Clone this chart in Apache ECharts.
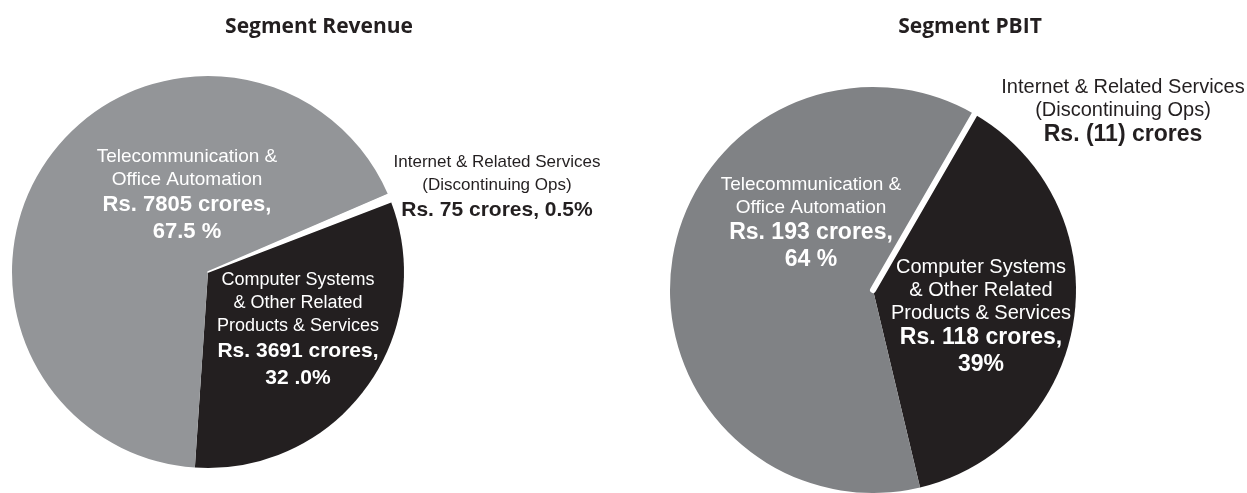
<!DOCTYPE html>
<html>
<head>
<meta charset="utf-8">
<script src="https://cdn.jsdelivr.net/npm/echarts@6/dist/echarts.min.js"></script>
<style>
  html, body { margin: 0; padding: 0; background: #fff; }
  #chart { width: 1247px; height: 493px; }
</style>
</head>
<body>
<div id="chart"></div>
<script>
// segment data, in drawing order (black, gray, white gap)
var segments = [
  "Computer Systems\n& Other Related\nProducts & Services",
  "Telecommunication &\nOffice Automation",
  "Internet & Related Services\n(Discontinuing Ops)"
];
var revenue = [3691, 7805, 75];
var revenueShare = ["32 .0%", "67.5 %", "0.5%"];
var pbit = [118, 193, -11];
var pbitShare = ["39%", "64 %", ""];
var titles = ["Segment Revenue", "Segment PBIT"];

var FONT = "'Liberation Sans', Arial, sans-serif";

// money text: negative shown in brackets
function rs(v) {
  return "Rs. " + (v < 0 ? "(" + Math.abs(v) + ")" : v) + " crores";
}

function buildSeries(values, shares, cfg) {
  var data = values.map(function (v, i) {
    var outside = i === 2; // internet label sits outside, one bold line
    var n = cfg.sizes[i][0], b = cfg.sizes[i][1];
    var color = outside ? "#231f20" : "#ffffff";
    var names = segments[i].split("\n").map(function (s) { return "{n|" + s + "}"; });
    var money;
    if (outside) {
      money = ["{b|" + rs(v) + (shares[i] ? ", " + shares[i] : "") + "}"];
    } else {
      money = ["{b|" + rs(v) + ",}", "{b|" + shares[i] + "}"];
    }
    return {
      name: segments[i].replace(/\n/g, " "),
      value: Math.max(v, 0),
      itemStyle: {
        color: cfg.colors[i],
        borderColor: "#ffffff",
        borderWidth: outside ? cfg.gap : 0
      },
      label: {
        formatter: names.concat(money).join("\n"),
        rich: {
          n: { fontFamily: FONT, fontSize: n, lineHeight: 23, color: color, align: "center" },
          b: { fontFamily: FONT, fontSize: b, fontWeight: "bold", lineHeight: 27, color: color, align: "center" }
        }
      }
    };
  });
  return {
    type: "pie",
    center: cfg.center,
    radius: [0, cfg.radius],
    startAngle: cfg.startAngle,
    clockwise: true,
    avoidLabelOverlap: false,
    silent: true,
    label: { show: true, position: "inside" },
    labelLine: { show: false },
    labelLayout: function (p) {
      var pos = cfg.labels[p.dataIndex];
      return { x: pos[0], y: pos[1], align: "center", verticalAlign: "middle" };
    },
    data: data
  };
}

var left = {
  center: [208, 272], radius: 196, startAngle: 21, gap: 1.5,
  colors: ["#231f20", "#939598", "#ffffff"],
  labels: [[298, 330], [187, 195], [497, 187]],
  sizes: [[18, 21], [19, 22], [17, 21]]
};
var right = {
  center: [873, 290], radius: 203, startAngle: 60, gap: 6,
  colors: ["#231f20", "#808285", "#ffffff"],
  labels: [[981, 317], [811, 223], [1123, 112]],
  sizes: [[20, 23], [19, 23], [20, 23]]
};

var chart = echarts.init(document.getElementById("chart"));
var titleStyle = { fontFamily: "'Open Sans', sans-serif", fontSize: 21, fontWeight: "bold", color: "#231f20" };
var option = {
  backgroundColor: "#ffffff",
  animation: false,
  title: [
    { text: titles[0], left: 314, top: 12, textAlign: "center", textStyle: titleStyle },
    { text: titles[1], left: 965, top: 12, textAlign: "center", textStyle: titleStyle }
  ],
  series: [
    buildSeries(revenue, revenueShare, left),
    buildSeries(pbit, pbitShare, right)
  ]
};
chart.setOption(option);
window.addEventListener("resize", function () {
  chart.resize();
});
</script>
</body>
</html>
